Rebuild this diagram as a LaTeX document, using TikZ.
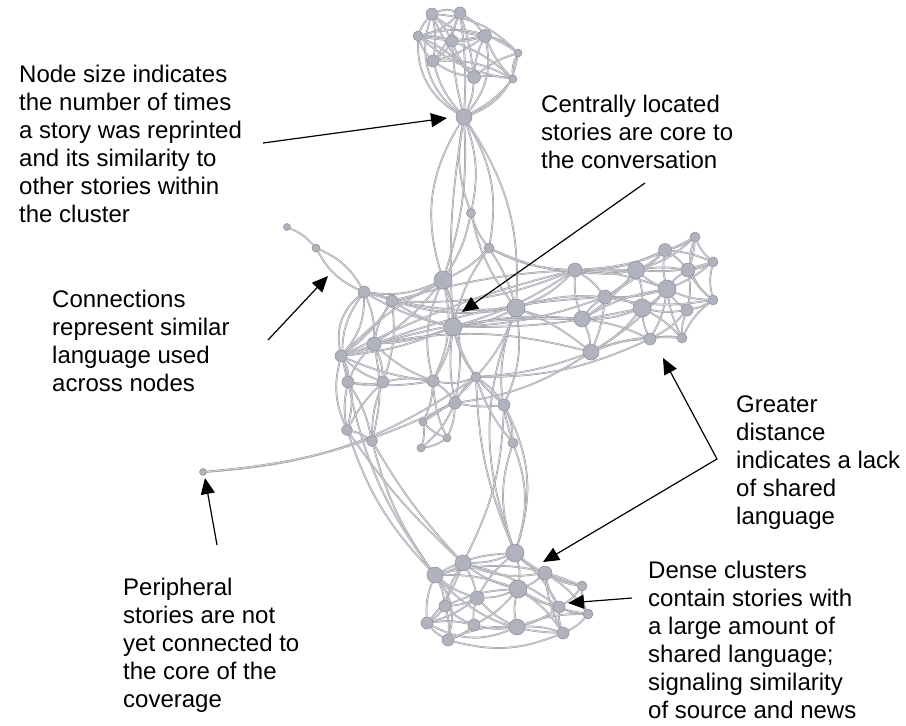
\documentclass[tikz,border=0pt]{standalone}
\usepackage{fontspec}
\setmainfont{Liberation Sans}
\usetikzlibrary{arrows.meta,backgrounds}
\definecolor{edline}{RGB}{150,152,160}
\definecolor{edfill}{RGB}{212,213,218}
\definecolor{ndfill}{RGB}{176,179,189}
\definecolor{ndline}{RGB}{140,143,152}
\begin{document}
\begin{tikzpicture}[x=1pt,y=-1pt,
  nd/.style={circle,fill=ndfill,draw=ndline,line width=0.5pt,inner sep=0pt,minimum size=#1},
  ed/.style={draw=edline,line width=0.45pt,double=edfill,double distance=0.9pt},
  arr/.style={draw=black,line width=1.2pt,-{Triangle[length=16pt,width=14pt]}},
  arrb/.style={draw=black,line width=1.2pt,{Triangle[length=16pt,width=14pt]}-{Triangle[length=16pt,width=14pt]}},
  lbl/.style={font=\fontsize{24}{28}\selectfont,align=left,anchor=base west,inner sep=0pt}]
\useasboundingbox (0,0) rectangle (906,726);
% top cluster
\node[nd=12pt] (t1) at (432,14) {};
\node[nd=12pt] (t2) at (460,13) {};
\node[nd=10pt] (t3) at (418,36) {};
\node[nd=12pt] (t4) at (452,41) {};
\node[nd=13pt] (t5) at (485,36) {};
\node[nd=12pt] (t6) at (433,61) {};
\node[nd=8pt] (t7) at (518,53) {};
\node[nd=13pt] (t8) at (474,77) {};
\node[nd=8pt] (t9) at (513,79) {};
\node[nd=16pt] (T) at (464,117) {};
% middle
\node[nd=7pt] (P1) at (287,227) {};
\node[nd=8pt] (m1) at (316,248) {};
\node[nd=9pt] (mt) at (471,213) {};
\node[nd=10pt] (m2) at (489,248) {};
\node[nd=18pt] (m3) at (443,280) {};
\node[nd=12pt] (m4) at (364,292) {};
\node[nd=12pt] (m5) at (392,301) {};
\node[nd=18pt] (m6) at (453,327) {};
\node[nd=18pt] (m7) at (516,308) {};
\node[nd=14pt] (m8) at (575,270) {};
\node[nd=17pt] (m9) at (636,270) {};
\node[nd=13pt] (m10) at (665,250) {};
\node[nd=10pt] (m11) at (695,237) {};
\node[nd=10pt] (m12) at (713,262) {};
\node[nd=14pt] (m13) at (688,270) {};
\node[nd=14pt] (m14) at (605,297) {};
\node[nd=18pt] (m15) at (667,289) {};
\node[nd=10pt] (m16) at (713,300) {};
\node[nd=18pt] (m17) at (642,308) {};
\node[nd=12pt] (m18) at (687,310) {};
\node[nd=16pt] (m19) at (582,319) {};
\node[nd=12pt] (m20) at (650,339) {};
\node[nd=10pt] (m21) at (682,338) {};
\node[nd=16pt] (m22) at (591,352) {};
\node[nd=14pt] (m23) at (374,344) {};
\node[nd=12pt] (m24) at (341,356) {};
\node[nd=12pt] (m25) at (348,382) {};
\node[nd=12pt] (m26) at (383,382) {};
\node[nd=12pt] (m27) at (433,381) {};
\node[nd=10pt] (m28) at (476,377) {};
\node[nd=12pt] (m29) at (455,403) {};
\node[nd=12pt] (m30) at (504,405) {};
\node[nd=11pt] (m31) at (347,430) {};
\node[nd=11pt] (m32) at (372,441) {};
\node[nd=8pt] (m33) at (423,422) {};
\node[nd=8pt] (m34) at (447,438) {};
\node[nd=8pt] (m36) at (421,448) {};
\node[nd=10pt] (m35) at (513,443) {};
\node[nd=7pt] (P2) at (203,472) {};
% bottom cluster
\node[nd=18pt] (b1) at (515,553) {};
\node[nd=16pt] (b2) at (463,563) {};
\node[nd=16pt] (b3) at (435,575) {};
\node[nd=14pt] (b4) at (545,573) {};
\node[nd=10pt] (b5) at (582,586) {};
\node[nd=18pt] (b6) at (518,589) {};
\node[nd=14pt] (b7) at (477,598) {};
\node[nd=12pt] (b8) at (445,606) {};
\node[nd=12pt] (b9) at (559,607) {};
\node[nd=10pt] (b10) at (588,614) {};
\node[nd=12pt] (b11) at (427,623) {};
\node[nd=12pt] (b12) at (474,625) {};
\node[nd=16pt] (b13) at (517,627) {};
\node[nd=12pt] (b14) at (563,633) {};
\node[nd=12pt] (b15) at (448,640) {};
\begin{pgfonlayer}{background}
\fill[white] (0,0) rectangle (906,726);
% top cluster edges
\foreach \a/\b/\c in {t1/t2/20,t1/t3/-10,t1/t4/8,t1/t6/10,t1/t8/-10,t1/t5/-15,t2/t4/-8,t2/t5/12,t2/t3/15,t2/t6/8,t2/t8/5,t3/t4/10,t3/t5/-10,t3/t6/-12,t3/t8/10,t4/t5/-8,t4/t6/10,t4/t8/-10,t4/t9/10,t5/t7/15,t5/t8/-10,t5/t9/-10,t5/t6/10,t6/t8/-12,t6/t9/15,t7/t9/-15,t7/t8/-10,t8/t9/8,t6/T/-12,t8/T/10,t9/T/10,t3/T/-30,t1/T/-35,t2/T/5,t4/T/-5,t5/T/25,t7/T/30,t3/t7/25,t1/t7/20,t3/t9/-15}
  \draw[ed] (\a) to[bend left=\c] (\b);
% middle edges
\foreach \a/\b/\c in {P1/m1/12,m1/m4/18,m1/m4/-18,T/m3/-24,T/m3/10,T/mt/-15,T/mt/15,T/m2/20,T/m6/-6,T/m7/18,mt/m3/10,mt/m2/-10,mt/m7/-12,m2/m3/10,m2/m6/-10,m2/m7/8,m2/m8/-12,m2/m9/-15,
  m4/m5/12,m4/m3/-15,m4/m6/-8,m4/m23/12,m4/m24/-30,m4/m24/20,m4/m25/-25,m4/m7/-10,m5/m6/-8,m5/m23/-12,m5/m24/10,m5/m26/12,m5/m3/-12,m5/m7/-12,m5/m8/-12,
  m3/m6/12,m3/m27/18,m3/m27/-18,m3/m23/8,m3/m24/-8,m3/m29/15,
  m6/m7/-10,m6/m8/-8,m6/m14/-8,m6/m23/8,m6/m24/8,m6/m27/10,m6/m28/-10,m6/m29/-8,m6/m19/8,m6/m30/-15,
  m7/m8/-12,m7/m14/10,m7/m19/-10,m7/m30/15,m7/m35/-18,m7/m28/10,m7/m22/8,m7/b1/-20,
  m8/m9/-10,m8/m14/10,m8/m19/-10,m8/m10/-12,m8/m15/8}
  \draw[ed] (\a) to[bend left=\c] (\b);
% right cluster
\foreach \a/\b/\c in {m9/m10/-10,m9/m13/8,m9/m14/10,m9/m15/-8,m9/m17/10,m9/m11/-12,m10/m11/-10,m10/m13/8,m10/m15/-10,m10/m12/8,m11/m12/-12,m11/m13/8,m11/m16/-35,m12/m13/10,m12/m16/-12,m12/m15/8,m13/m15/-10,m13/m18/10,m13/m16/-10,m14/m15/-8,m14/m17/10,m14/m19/-10,m14/m22/8,m15/m16/-10,m15/m17/8,m15/m18/-10,m15/m20/10,m15/m21/-8,m16/m18/10,m16/m21/-12,m17/m18/-10,m17/m19/10,m17/m20/-10,m17/m21/8,m17/m22/10,m18/m20/10,m18/m21/-10,m19/m22/10,m19/m20/8,m20/m22/-10,m20/m21/10,m14/m10/-8,m19/m15/10,m22/m15/-8,m19/m9/-8,m8/m11/-12,m9/m12/-10,m14/m16/-10,m22/m21/12}
  \draw[ed] (\a) to[bend left=\c] (\b);
% long links and left group
\foreach \a/\b/\c in {m19/m24/-10,m14/m23/-8,m22/m23/-12,m22/m28/8,m22/m29/12,m20/m28/12,m17/m6/6,m9/m5/-8,m8/m24/-6,
  m24/m25/15,m24/m31/18,m24/m31/-18,m25/m31/-10,m25/m32/10,m26/m32/-10,m26/m25/12,m23/m25/-10,m23/m26/10,m23/m24/12,m24/m26/-10,m31/m32/10,m23/m32/12,m26/m31/-8,m23/m27/-10,m26/m27/10,m24/m27/-8,m25/m27/-8,
  m27/m33/10,m27/m34/-10,m27/m29/10,m29/m33/-10,m29/m34/10,m33/m34/-12,m33/m36/12,m36/m34/-12,m28/m29/-10,m28/m30/10,m27/m28/-15,m29/m30/-8,m30/m35/10,m28/m35/-10,m29/m36/12,m28/m33/8,
  m30/b1/22,m35/b1/-18,m35/b1/18,m30/b2/12,m28/b1/-10,m31/b3/-12,m31/b2/-6,m32/b3/-10,m32/b2/-6,m25/b3/-12,
  P2/m28/-15,P2/m29/-10}
  \draw[ed] (\a) to[bend left=\c] (\b);
% bottom cluster
\foreach \a/\b/\c in {b1/b2/10,b1/b3/-12,b1/b4/-10,b1/b6/12,b1/b7/-10,b1/b9/10,b1/b5/-12,b2/b3/10,b2/b6/-10,b2/b7/10,b2/b8/-10,b2/b11/10,b2/b4/-15,b3/b8/10,b3/b11/-12,b3/b7/-10,b3/b6/10,b3/b15/25,b4/b5/-10,b4/b6/10,b4/b9/-10,b4/b10/10,b4/b14/-10,b5/b9/10,b5/b10/-12,b6/b7/10,b6/b9/-10,b6/b12/10,b6/b13/-12,b6/b14/10,b6/b8/-10,b7/b8/10,b7/b12/-10,b7/b11/10,b7/b13/-10,b8/b11/10,b8/b12/-10,b8/b15/10,b9/b10/-10,b9/b13/10,b9/b14/-10,b10/b14/12,b11/b15/-10,b12/b15/10,b12/b13/-10,b13/b14/10,b13/b15/-12,b11/b12/10,b2/b9/10,b6/b10/-10,b13/b10/10,b3/b14/-22,b11/b13/-25,b15/b14/-18,b3/b5/18}
  \draw[ed] (\a) to[bend left=\c] (\b);
\end{pgfonlayer}
% labels (anchor at the baseline of the last line)
\node[lbl] (L1) at (19,222) {Node size indicates\\the number of times\\a story was reprinted\\and its similarity to\\other stories within\\the cluster};
\node[lbl] (L2) at (541,168) {Centrally located\\stories are core to\\the conversation};
\node[lbl] (L3) at (52,391) {Connections\\represent similar\\language used\\across nodes};
\node[lbl] (L4) at (736,524) {Greater\\distance\\indicates a lack\\of shared\\language};
\node[lbl] (L5) at (648,718) {Dense clusters\\contain stories with\\a large amount of\\shared language;\\signaling similarity\\of source and news};
\node[lbl] (L6) at (123,707) {Peripheral\\stories are not\\yet connected to\\the core of the\\coverage};
% arrows
\coordinate (a1s) at (263,143); \coordinate (a1e) at (447,118);
\coordinate (a2s) at (645,183); \coordinate (a2e) at (462,312);
\coordinate (a3s) at (268,340); \coordinate (a3e) at (328,276);
\coordinate (a4s) at (663,358); \coordinate (a4m) at (717,459); \coordinate (a4e) at (543,562);
\coordinate (a5s) at (632,598); \coordinate (a5e) at (568,603);
\coordinate (a6s) at (217,545); \coordinate (a6e) at (205,478);
\draw[arr] (a1s) -- (a1e);
\draw[arr] (a2s) -- (a2e);
\draw[arr] (a3s) -- (a3e);
\draw[arrb] (a4s) -- (a4m) -- (a4e);
\draw[arr] (a5s) -- (a5e);
\draw[arr] (a6s) -- (a6e);
\end{tikzpicture}
\end{document}
